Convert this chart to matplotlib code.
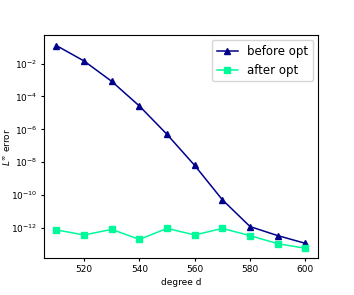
import numpy as np
import matplotlib
matplotlib.use('Agg')
import matplotlib.pyplot as plt

degrees = [510, 520, 530, 540, 550, 560, 570, 580, 590, 600]
# log10 of the error
before_log = [-0.9, -1.84, -3.08, -4.58, -6.31, -8.2, -10.29, -11.92, -12.47, -12.94]
after_log = [-12.12, -12.43, -12.09, -12.7, -12.03, -12.43, -12.03, -12.47, -12.96, -13.24]

before_opt = 10.0 ** np.array(before_log)
after_opt = 10.0 ** np.array(after_log)
ytick_vals = [1e-12, 1e-10, 1e-8, 1e-6, 1e-4, 1e-2]

fig = plt.figure(figsize=(3.54, 2.95), dpi=100)
ax = fig.add_axes([0.124, 0.124, 0.774, 0.756])
ax.semilogy(degrees, before_opt, marker='^', color='darkblue', markersize=5, linewidth=1.1, label='before opt')
ax.semilogy(degrees, after_opt, marker='s', color='mediumspringgreen', markersize=5, linewidth=1.1, label='after opt')
ax.set_xticks([520, 540, 560, 580, 600])
ax.set_yticks(ytick_vals)
ax.minorticks_off()
ax.set_xlabel('degree d', fontsize=6.5)
ax.set_ylabel(r'$L^\infty$ error', fontsize=6.5)
ax.xaxis.set_label_coords(0.5, -0.09)
ax.yaxis.set_label_coords(-0.115, 0.5)
ax.tick_params(labelsize=6.5, length=2.5, pad=2)
ax.legend(loc='upper right', fontsize=8.5, handlelength=1.8, borderaxespad=0.4)
fig.savefig('out.png', dpi=100)
